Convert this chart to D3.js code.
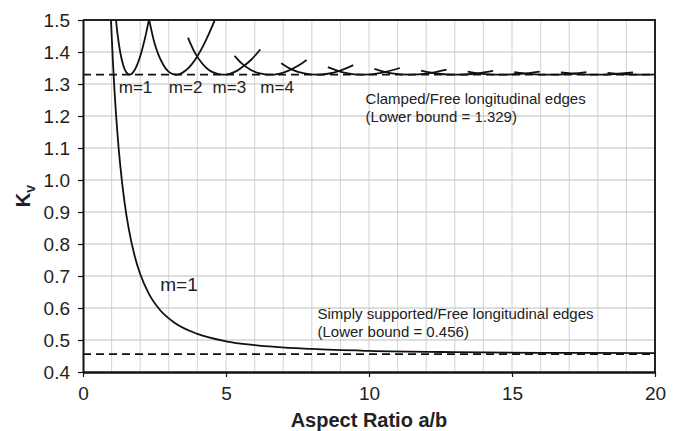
<!DOCTYPE html>
<html>
<head>
<meta charset="utf-8">
<script src="https://cdn.jsdelivr.net/npm/d3@7"></script>
<style>
  body { margin: 0; background: #fff; }
  svg { font-family: Arial, "Liberation Sans", sans-serif; }
</style>
</head>
<body>
<svg width="680" height="431"></svg>
<script>
// x ticks / y ticks
var xTicks = [0, 5, 10, 15, 20];
var yTicks = [0.4, 0.5, 0.6, 0.7, 0.8, 0.9, 1.0, 1.1, 1.2, 1.3, 1.4, 1.5];

// lower bounds (dashed lines)
var lowerBounds = [1.329, 0.456];

// simply supported / free edges, m=1
var ssAspect = [0.97, 1.0, 1.05, 1.1, 1.2, 1.3, 1.45, 1.6, 1.8, 2.0, 2.3, 2.7, 3.2, 4, 5, 6, 8, 10, 13, 16, 20];
var ssK      = [1.519, 1.456, 1.363, 1.282, 1.150, 1.048, 0.932, 0.847, 0.765, 0.706, 0.645, 0.593, 0.554, 0.519, 0.496, 0.484, 0.472, 0.466, 0.462, 0.460, 0.459];

// clamped / free edges, one curve per mode m
var clampedModes = [1, 2, 3, 4, 5, 6, 7, 8, 9, 10, 11, 12];
var clampedAspect = [
    [1.10, 1.2, 1.3, 1.4, 1.5, 1.63, 1.8, 2.0, 2.2, 2.4],
    [2.2, 2.5, 2.8, 3.0, 3.26, 3.6, 4.0, 4.3, 4.6],
    [3.67, 3.91, 4.16, 4.40, 4.65, 4.89, 5.13, 5.38, 5.62, 5.87, 6.20],
    [5.30, 5.54, 5.87, 6.19, 6.52, 6.85, 7.17, 7.50, 7.82],
    [6.93, 7.33, 7.74, 8.15, 8.56, 8.97, 9.45],
    [8.56, 9.17, 9.78, 10.43, 11.08],
    [10.19, 10.80, 11.41, 12.06, 12.71],
    [11.82, 12.43, 13.04, 13.69, 14.34],
    [13.45, 14.06, 14.67, 15.32, 15.97],
    [15.08, 15.69, 16.30, 16.95, 17.60],
    [16.71, 17.32, 17.93, 18.58, 19.23],
    [18.34, 18.95, 19.56, 20.0]
];
var clampedK = [
    [1.552, 1.461, 1.400, 1.361, 1.338, 1.329, 1.343, 1.387, 1.456, 1.544],
    [1.552, 1.428, 1.361, 1.338, 1.329, 1.343, 1.387, 1.437, 1.498],
    [1.445, 1.398, 1.365, 1.344, 1.333, 1.329, 1.332, 1.341, 1.356, 1.375, 1.408],
    [1.388, 1.365, 1.344, 1.333, 1.329, 1.332, 1.341, 1.356, 1.375],
    [1.365, 1.344, 1.333, 1.329, 1.332, 1.341, 1.359],
    [1.353, 1.335, 1.329, 1.335, 1.350],
    [1.347, 1.333, 1.329, 1.333, 1.345],
    [1.342, 1.332, 1.329, 1.332, 1.341],
    [1.339, 1.331, 1.329, 1.332, 1.339],
    [1.337, 1.331, 1.329, 1.331, 1.337],
    [1.336, 1.331, 1.329, 1.331, 1.336],
    [1.335, 1.330, 1.329, 1.330]
];

var svg = d3.select("svg"),
    margin = {top: 20, right: 25, bottom: 59, left: 83},
    width = 680 - margin.left - margin.right,
    height = 431 - margin.top - margin.bottom;

var x = d3.scaleLinear().domain([0, 20]).range([0, width]),
    y = d3.scaleLinear().domain([0.4, 1.5]).range([height, 0]);

var g = svg.append("g")
    .attr("transform", "translate(" + margin.left + "," + margin.top + ")");

g.append("clipPath").attr("id", "plot")
    .append("rect").attr("width", width).attr("height", height);

// grid
g.selectAll(".vgrid")
    .data(d3.range(1, 20))
    .enter().append("line")
    .attr("x1", d => x(d)).attr("x2", d => x(d))
    .attr("y1", 0).attr("y2", height)
    .attr("stroke", "#d9d9d9").attr("stroke-width", 1.2);

g.selectAll(".hgrid")
    .data(yTicks.slice(1, -1))
    .enter().append("line")
    .attr("x1", 0).attr("x2", width)
    .attr("y1", d => y(d)).attr("y2", d => y(d))
    .attr("stroke", "#bdbdbd").attr("stroke-width", 1.2);

// top / right border
g.append("path")
    .attr("d", "M0,0H" + width + "V" + height)
    .attr("fill", "none").attr("stroke", "#222").attr("stroke-width", 2);

// dashed lower bounds
g.selectAll(".bound")
    .data(lowerBounds)
    .enter().append("line")
    .attr("x1", 0).attr("x2", width)
    .attr("y1", d => y(d)).attr("y2", d => y(d))
    .attr("stroke", "#111").attr("stroke-width", 1.8)
    .attr("stroke-dasharray", "8,5");

var line = d3.line()
    .x(d => x(d[0]))
    .y(d => y(d[1]))
    .curve(d3.curveMonotoneX);

var curves = g.append("g").attr("clip-path", "url(#plot)");

curves.append("path")
    .datum(d3.zip(ssAspect, ssK))
    .attr("d", line)
    .attr("fill", "none").attr("stroke", "#111").attr("stroke-width", 1.8);

curves.selectAll(".mode")
    .data(clampedModes)
    .enter().append("path")
    .attr("class", "mode")
    .attr("d", (m, i) => line(d3.zip(clampedAspect[i], clampedK[i])))
    .attr("fill", "none").attr("stroke", "#111").attr("stroke-width", 1.8);

// axes
var yAxis = g.append("g")
    .call(d3.axisLeft(y).tickValues(yTicks).tickFormat(d3.format(".1f"))
        .tickSize(5).tickSizeOuter(0).tickPadding(8));

var xAxis = g.append("g")
    .attr("transform", "translate(0," + height + ")")
    .call(d3.axisBottom(x).tickValues(xTicks)
        .tickSize(5).tickSizeOuter(0).tickPadding(10));

yAxis.select(".domain").attr("stroke", "#111").attr("stroke-width", 2);
xAxis.select(".domain").attr("stroke", "#111").attr("stroke-width", 2.5);
g.selectAll(".tick line").attr("stroke", "#111").attr("stroke-width", 1.2);
g.selectAll(".tick text")
    .attr("font-family", "Arial, 'Liberation Sans', sans-serif")
    .attr("font-size", 19).attr("fill", "#222");

// axis titles
g.append("text")
    .attr("x", width / 2).attr("y", 407)
    .attr("text-anchor", "middle")
    .attr("font-size", 20).attr("font-weight", "bold").attr("fill", "#222")
    .text("Aspect Ratio a/b");

var yl = svg.append("text")
    .attr("transform", "translate(30," + (margin.top + height / 2) + ") rotate(-90)")
    .attr("text-anchor", "middle")
    .attr("font-size", 20).attr("font-weight", "bold").attr("fill", "#222");
yl.append("tspan").text("K");
yl.append("tspan").attr("font-size", 14).attr("dy", 5).text("v");

// curve labels
var labels = [
    {t: "m=1", a: 1.25, k: 1.272, s: 17},
    {t: "m=2", a: 3.0, k: 1.272, s: 17},
    {t: "m=3", a: 4.53, k: 1.272, s: 17},
    {t: "m=4", a: 6.2, k: 1.272, s: 17},
    {t: "m=1", a: 2.7, k: 0.653, s: 19}
];
g.selectAll(".mlabel")
    .data(labels)
    .enter().append("text")
    .attr("x", d => x(d.a)).attr("y", d => y(d.k))
    .attr("font-size", d => d.s).attr("fill", "#222")
    .text(d => d.t);

var notes = [
    {t: "Clamped/Free longitudinal edges", a: 9.88, k: 1.2375},
    {t: "(Lower bound = 1.329)", a: 9.88, k: 1.181},
    {t: "Simply supported/Free longitudinal edges", a: 8.2, k: 0.566},
    {t: "(Lower bound = 0.456)", a: 8.2, k: 0.510}
];
g.selectAll(".note")
    .data(notes)
    .enter().append("text")
    .attr("x", d => x(d.a)).attr("y", d => y(d.k))
    .attr("font-size", 15).attr("fill", "#222")
    .text(d => d.t);
</script>
</body>
</html>
